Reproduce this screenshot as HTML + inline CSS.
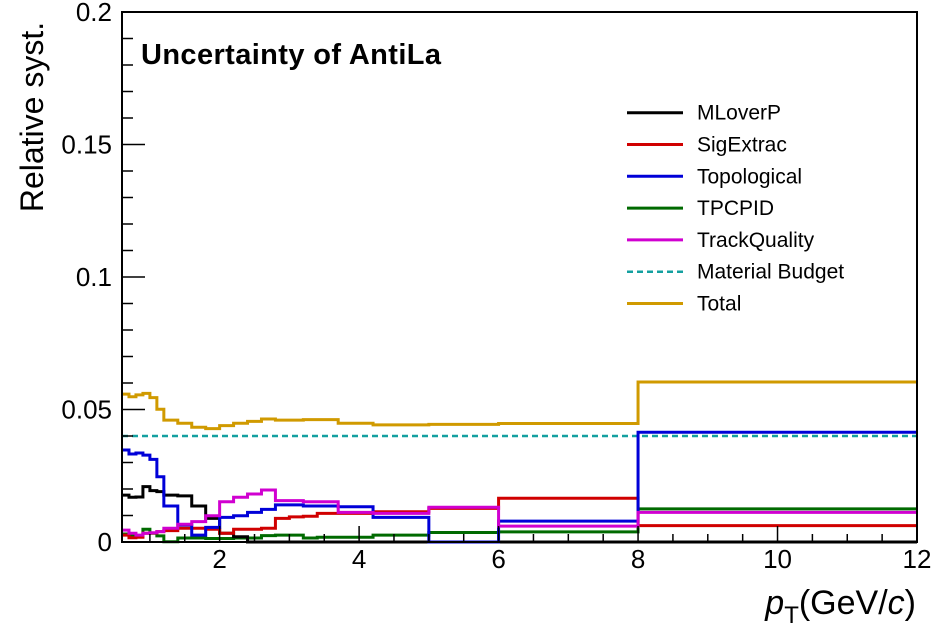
<!DOCTYPE html>
<html><head><meta charset="utf-8"><style>
body{margin:0;background:#fff}
svg text{font-family:"Liberation Sans",sans-serif}
</style></head><body>
<svg id="chart" width="945" height="638" xmlns="http://www.w3.org/2000/svg">
<rect width="945" height="638" fill="#fff"/>
<g id="series"></g>
<g id="axes"></g>
<text x="141" y="64" font-size="29" font-weight="bold" textLength="300">Uncertainty of AntiLa</text>
<text transform="translate(43,117) rotate(-90)" text-anchor="middle" font-size="32">Relative syst.</text>
<text x="916" y="614" text-anchor="end" font-size="34"><tspan font-style="italic">p</tspan><tspan font-size="24" dy="9">T</tspan><tspan dy="-9">(GeV/</tspan><tspan font-style="italic">c</tspan><tspan>)</tspan></text>
<g id="legend"></g>
</svg>
<script>
const binEdges=[0.6,0.7,0.8,0.9,1.0,1.1,1.2,1.4,1.6,1.8,2.0,2.2,2.4,2.6,2.8,3.0,3.2,3.4,3.7,4.2,5.0,6.0,8.0,12];
const mlOverP=[0.0177,0.0169,0.0170,0.0209,0.0194,0.0190,0.0177,0.0174,0.0136,0.0089,0.0033,0.0020,0,0,0,0,0,0,0,0,0,0,0];
const sigExtrac=[0.0026,0.0016,0.0018,0.0033,0.0034,0.0039,0.0043,0.0052,0.0052,0.0048,0.0033,0.0048,0.0048,0.0052,0.0089,0.0095,0.0097,0.0108,0.0108,0.0114,0.0127,0.0165,0.0062];
const topological=[0.0347,0.0332,0.0336,0.0328,0.0312,0.0246,0.0136,0.0064,0.0026,0.0055,0.0093,0.0099,0.0112,0.0123,0.0140,0.0140,0.0136,0.0136,0.0133,0.0093,0,0.0079,0.0414];
const tpcPid=[0.0030,0.0023,0.0023,0.0048,0.0033,0.0023,0.0001,0.0015,0.0015,0.0013,0.0013,0.0015,0.0015,0.0024,0.0026,0.0026,0.0015,0.0018,0.0018,0.0026,0.0036,0.0038,0.0125];
const trackQuality=[0.0045,0.0033,0.0026,0.0033,0.0035,0.0039,0.0052,0.0067,0.0077,0.0099,0.0152,0.0169,0.0181,0.0196,0.0156,0.0156,0.0152,0.0152,0.0112,0.0108,0.0131,0.0060,0.0112];
const total=[0.0558,0.0548,0.0555,0.0561,0.0545,0.0501,0.0460,0.0448,0.0433,0.0428,0.0439,0.0448,0.0455,0.0464,0.0460,0.0460,0.0462,0.0462,0.0448,0.0442,0.0444,0.0447,0.0604];
const materialBudget=0.04;
const xTicks=[2,4,6,8,10,12];
const yTicks=[0,0.05,0.1,0.15,0.2];
const yTickLabels=["0","0.05","0.1","0.15","0.2"];
const legendNames=["MLoverP","SigExtrac","Topological","TPCPID","TrackQuality","Material Budget","Total"];
const legendColors=["#000","#d00000","#0000d8","#006a00","#d000d0","#14a0a0","#d09a00"];

const L=122,R=917,T=12,B=542,xMin=0.6,xMax=12,yMax=0.2;
const X=v=>L+(v-xMin)/(xMax-xMin)*(R-L);
const Y=v=>B-v/yMax*(B-T);
const NS="http://www.w3.org/2000/svg";
function mk(tag,attrs,parent){const e=document.createElementNS(NS,tag);for(const k in attrs)e.setAttribute(k,attrs[k]);parent.appendChild(e);return e;}
const sg=document.getElementById('series');
function hist(vals,color,name){
  let d=`M${X(binEdges[0])},${Y(vals[0])}`;
  for(let i=0;i<vals.length;i++){
    if(i>0)d+=`L${X(binEdges[i])},${Y(vals[i])}`;
    d+=`L${X(binEdges[i+1])},${Y(vals[i])}`;
  }
  const p=mk('path',{d:d,fill:'none',stroke:color,'stroke-width':3},sg);
  
  
}
const mb=mk('line',{x1:L,x2:R,y1:Y(materialBudget),y2:Y(materialBudget),stroke:legendColors[5],'stroke-width':2.5,'stroke-dasharray':'6,4'},sg);


hist(tpcPid,legendColors[3],'tpcpid-series');
hist(mlOverP,legendColors[0],'mloverp-series');
hist(sigExtrac,legendColors[1],'sigextrac-series');
hist(topological,legendColors[2],'topological-series');
hist(trackQuality,legendColors[4],'trackquality-series');
hist(total,legendColors[6],'total-series');

const ax=document.getElementById('axes');
const fr=mk('rect',{x:L,y:T,width:R-L,height:B-T,fill:'none',stroke:'#000','stroke-width':2},ax);


for(let v=1;v<=12.001;v+=0.5){
  if(v<xMin)continue;
  const major=Math.abs(v-Math.round(v/2)*2)<1e-6;
  mk('line',{x1:X(v),x2:X(v),y1:B,y2:B-(major?16:8),stroke:'#000','stroke-width':1.5},ax);
}
xTicks.forEach(v=>{
  const t=mk('text',{x:X(v),y:568,'text-anchor':'middle','font-size':26},ax);
  t.textContent=v;
  
  
});
for(let k=0;k<=20;k++){
  const v=k*0.01,major=k%5===0;
  mk('line',{x1:L,x2:L+(major?23:11),y1:Y(v),y2:Y(v),stroke:'#000','stroke-width':1.5},ax);
}
yTicks.forEach((v,i)=>{
  const t=mk('text',{x:112,y:Y(v)+9,'text-anchor':'end','font-size':26},ax);
  t.textContent=yTickLabels[i];
  
  
});
const lg=document.getElementById('legend');
legendNames.forEach((n,i)=>{
  const y=112.7+i*31.8;
  const g=mk('g',{},lg);
  
  
  const a={x1:627,x2:683,y1:y,y2:y,stroke:legendColors[i],'stroke-width':3};
  if(i===5){a['stroke-dasharray']='6,4';a['stroke-width']=2.5;}
  mk('line',a,g);
  const t=mk('text',{x:697,y:y+7,'font-size':21},g);
  t.textContent=n;
});
</script>
</body></html>
